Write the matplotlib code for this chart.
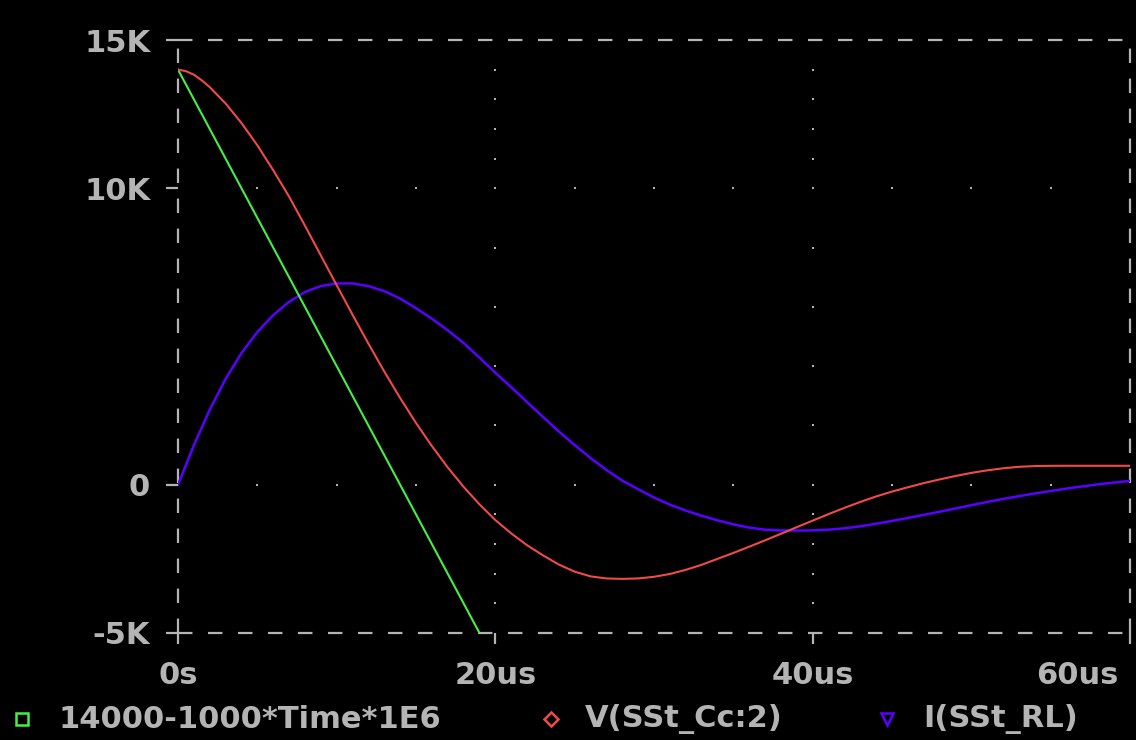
import matplotlib
matplotlib.use("Agg")
import matplotlib.pyplot as plt
from matplotlib.lines import Line2D
import matplotlib.transforms as mtransforms

# ---- data (time in microseconds) ----
green_t = [0.0, 19.0]
green_v = [14000, -5000]

red_t = [0, 0.5, 1, 1.5, 2, 3, 4, 5, 6, 7, 8, 9, 10, 11, 12, 13, 14, 15, 16,
         17, 18, 19, 20, 21, 22, 23, 24, 25, 26, 27, 28, 29, 30, 31, 32, 33,
         34, 35, 36, 37, 38, 39, 40, 41, 42, 43, 44, 45, 46, 47, 48, 49, 50,
         51, 52, 53, 54, 55, 56, 60]
red_v = [14000, 13950, 13830, 13640, 13410, 12860, 12200, 11450, 10610, 9720,
         8740, 7735, 6730, 5735, 4760, 3820, 2925, 2085, 1305, 585, -70, -660,
         -1190, -1640, -2040, -2380, -2690, -2930, -3090, -3160, -3175, -3160,
         -3105, -3010, -2870, -2700, -2500, -2300, -2090, -1875, -1655, -1430,
         -1210, -990, -780, -580, -395, -230, -85, 55, 180, 295, 400, 485, 555,
         605, 630, 638, 640, 640]

blue_t = [0, 1, 2, 3, 4, 5, 6, 7, 8, 9, 10, 11, 12, 13, 14, 15, 16, 17, 18,
          19, 20, 21, 22, 23, 24, 25, 26, 27, 28, 29, 30, 31, 32, 33, 34, 35,
          36, 37, 38, 39, 40, 41, 42, 43, 44, 45, 46, 47, 48, 49, 50, 51, 52,
          53, 54, 55, 56, 57, 58, 59, 60]
blue_v = [0, 1330, 2530, 3570, 4440, 5150, 5720, 6170, 6500, 6700, 6790, 6790,
          6700, 6530, 6280, 5955, 5600, 5210, 4780, 4290, 3780, 3290, 2790,
          2290, 1800, 1340, 900, 500, 140, -150, -430, -670, -870, -1045,
          -1200, -1335, -1445, -1515, -1540, -1545, -1540, -1515, -1470, -1400,
          -1315, -1220, -1120, -1015, -910, -800, -690, -580, -480, -385, -295,
          -210, -130, -55, 15, 75, 130]

x_ticks = [0, 20, 40, 60]
x_labels = ["0s", "20us", "40us", "60us"]
y_ticks = [15000, 10000, 0, -5000]
y_labels = ["15K", "10K", "0", "-5K"]

legend_labels = ["14000-1000*Time*1E6", "V(SSt_Cc:2)", "I(SSt_RL)"]

# ---- style ----
BG = "black"
FG = "#b4b4b4"
C_GREEN = "#44f044"
C_RED = "#f04a4a"
C_BLUE = "#5a00ff"
FONT = ["DejaVu Sans"]
FS = 22

W, H = 1136, 740
fig = plt.figure(figsize=(W / 100, H / 100), dpi=100, facecolor=BG)
x0, x1, ytop, ybot = 178, 1130, 40, 633
ax = fig.add_axes([x0 / W, 1 - ybot / H, (x1 - x0) / W, (ybot - ytop) / H])
ax.set_facecolor(BG)
ax.set_xlim(0, 60)
ax.set_ylim(-5000, 15000)

# dashed frame
for s in ax.spines.values():
    s.set_visible(False)
dash = (0, (6.5, 7))
frame_kw = dict(color=FG, lw=1.6, ls=dash, clip_on=False, zorder=1)
ax.plot([0, 60], [15000, 15000], **frame_kw)
ax.plot([0, 60], [-5000, -5000], **frame_kw)
ax.plot([0, 0], [-5000, 15000], **frame_kw)
ax.plot([60, 60], [-5000, 15000], **frame_kw)

# dotted grid
dot_kw = dict(color=FG, s=4, marker="s", linewidths=0, zorder=1)
for gx in (20, 40):
    ys = [14000, 13000, 12000, 11000, 10000, 8000, 6000, 4000, 2000, 0,
          -1000, -2000, -3000, -4000]
    ax.scatter([gx] * len(ys), ys, **dot_kw)
for gy in (10000, 0):
    xs = [5, 10, 15, 20, 25, 30, 35, 40, 45, 50, 55]
    ax.scatter(xs, [gy] * len(xs), **dot_kw)

# curves
ax.plot(green_t, green_v, color=C_GREEN, lw=1.5, zorder=3)
ax.plot(red_t, red_v, color=C_RED, lw=1.5, zorder=3)
ax.plot(blue_t, blue_v, color=C_BLUE, lw=1.8, zorder=2)

# ticks
ax.set_xticks(x_ticks)
ax.set_xticklabels(x_labels)
ax.set_yticks(y_ticks)
ax.set_yticklabels(y_labels)
ax.tick_params(axis="x", colors=FG, length=8, width=1.6, pad=12, direction="out")
ax.tick_params(axis="y", colors=FG, length=9, width=1.6, pad=11, direction="out")
for lab in ax.get_xticklabels() + ax.get_yticklabels():
    lab.set_family(FONT)
    lab.set_fontsize(FS)
    lab.set_fontweight("bold")
    lab.set_color(FG)
last = ax.get_xticklabels()[-1]
last.set_horizontalalignment("right")
last.set_transform(last.get_transform() + mtransforms.ScaledTranslation(-0.12, 0, fig.dpi_scale_trans))

# legend row
ly = 1 - 719 / H
items = [(22, 58, "s", 8.5, C_GREEN, legend_labels[0]),
         (551, 585, "D", 7.5, C_RED, legend_labels[1]),
         (887, 923, "v", 9, C_BLUE, legend_labels[2])]
for mx, tx, mk, ms, col, txt in items:
    fig.add_artist(Line2D([mx / W], [ly], marker=mk, markersize=ms,
                          markerfacecolor="none", markeredgecolor=col,
                          markeredgewidth=1.8, linestyle="none",
                          transform=fig.transFigure))
    fig.text(tx / W, ly, txt, color=FG, fontsize=FS, fontweight="bold",
             family=FONT, ha="left", va="center")

fig.savefig("out.png", dpi=100, facecolor=BG)
